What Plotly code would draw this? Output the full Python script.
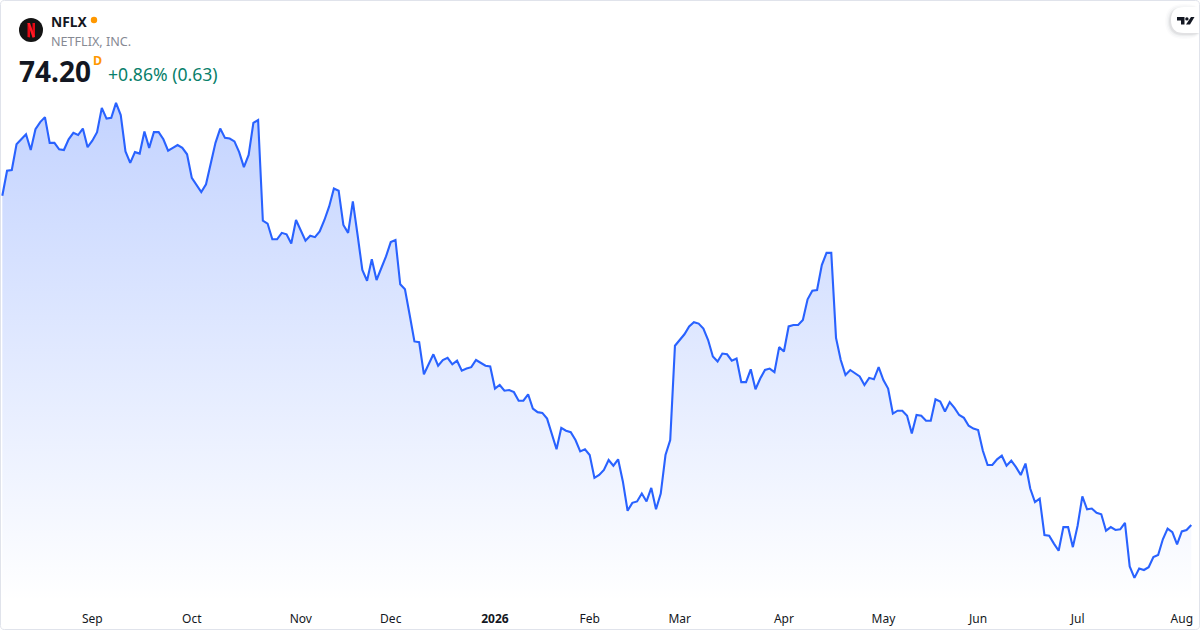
import plotly.graph_objects as go

# 1. Data (daily close, one value per trading day)
prices_aug_oct = [
    120.3, 123.8, 123.9, 127.5, 128.2, 128.9, 126.7, 129.6, 130.6, 131.3, 127.7, 127.7, 126.8, 126.7, 128.2, 129.1,
    128.8, 129.7, 127.1, 128.0, 129.2, 132.6, 131.1, 131.2, 133.3, 131.6, 126.5, 124.9, 126.4, 126.2, 129.3, 127.0,
    129.2, 129.2, 128.2, 126.6, 127.0, 127.4, 127.0, 126.1, 122.8, 121.8, 120.8, 121.9, 124.8, 127.7, 129.7, 128.4,
    128.3, 127.9, 126.4, 124.3, 126.0, 130.5, 130.9, 116.8, 116.4, 114.2, 114.2, 115.1, 114.9, 113.6, 116.9,
]
prices_nov_jan = [
    115.4, 114.0, 114.7, 114.5, 115.3, 116.9, 118.8, 121.3, 121.0, 116.2, 115.1, 119.5, 114.8, 109.9, 108.4, 111.4,
    108.5, 110.1, 111.8, 113.8, 114.1, 107.9, 107.2, 103.6, 99.9, 99.8, 95.3, 96.7, 98.1, 96.5, 97.3, 97.6,
    96.7, 97.2, 95.8, 96.1, 96.3, 97.3, 96.9, 96.5, 96.4, 93.3, 93.8, 93.0, 93.1, 92.8, 91.6, 91.6,
    92.5, 90.5, 90.0, 89.9, 89.1, 86.9, 84.8, 87.8, 87.4, 87.2, 86.1, 84.5, 84.8, 84.0,
]
prices_feb_may = [
    80.8, 81.2, 81.9, 83.3, 82.5, 83.4, 80.3, 76.2, 77.3, 77.5, 78.6, 77.5, 79.4, 76.4, 78.6, 84.0,
    86.1, 99.3, 100.1, 100.9, 102.0, 102.6, 102.4, 101.7, 100.1, 97.8, 97.1, 98.2, 98.1, 97.2, 97.5, 94.2,
    94.2, 96.0, 93.2, 94.7, 95.9, 96.1, 95.6, 99.1, 98.5, 102.0, 102.2, 102.2, 102.9, 105.8, 107.0, 107.1,
    110.6, 112.3, 112.3, 100.4, 97.3, 95.2, 95.9, 95.4, 95.0, 93.8, 94.8, 94.6, 96.3, 94.5, 93.3, 89.8, 90.2,
]
prices_may_aug = [
    90.2, 89.5, 87.0, 89.6, 89.5, 88.8, 88.8, 91.8, 91.5, 90.1, 91.4, 90.6, 89.6, 89.2, 88.1, 87.7,
    87.5, 84.6, 82.6, 82.6, 83.4, 83.9, 82.5, 83.2, 82.3, 81.2, 82.8, 79.3, 77.4, 77.9, 72.8, 72.7,
    71.6, 70.6, 73.9, 73.9, 71.1, 74.1, 78.2, 76.4, 76.5, 75.9, 75.7, 73.4, 73.9, 73.5, 73.6, 74.5,
    68.4, 66.8, 68.1, 67.9, 68.3, 69.7, 70.0, 72.2, 73.7, 73.2, 71.5, 73.3, 73.5, 74.2,
]
prices = prices_aug_oct + prices_nov_jan + prices_feb_may + prices_may_aug
days = list(range(len(prices)))

tick_days = [19, 40, 63, 82, 104, 124, 143, 165, 186, 206, 227, 249]
tick_labels = ['Sep', 'Oct', 'Nov', 'Dec', '<b>2026</b>', 'Feb', 'Mar', 'Apr', 'May', 'Jun', 'Jul', 'Aug']

symbol = 'NFLX'
company = 'NETFLIX, INC.'
last_price = '74.20'
interval = 'D'
change = '+0.86% (0.63)'

# 2. Page size and helpers to place the header in pixels
width = 1200
height = 630
bottom = 20
plot_h = height - bottom


def px(x):
    return x / width


def py(y):
    return 1 - y / plot_h


def path(points):
    return 'M ' + ' L '.join(f'{px(x):.5f},{py(y):.5f}' for x, y in points) + ' Z'


def text(x, y, label, size, color, anchor='left', bold=False):
    fig.add_annotation(
        x=px(x), y=py(y), xref='paper', yref='paper', text=f'<b>{label}</b>' if bold else label,
        showarrow=False, xanchor=anchor, yanchor='middle', borderpad=0,
        font=dict(family='Noto Sans', size=size, color=color),
    )


def shape(d, fill, line='rgba(0,0,0,0)', line_width=0):
    fig.add_shape(type='path', path=d, xref='paper', yref='paper', fillcolor=fill,
                  line=dict(color=line, width=line_width), layer='above')


def rounded(x0, y0, x1, y1, r):
    return (f'M {px(x0 + r):.5f},{py(y0):.5f} L {px(x1 - r):.5f},{py(y0):.5f} '
            f'Q {px(x1):.5f},{py(y0):.5f} {px(x1):.5f},{py(y0 + r):.5f} L {px(x1):.5f},{py(y1 - r):.5f} '
            f'Q {px(x1):.5f},{py(y1):.5f} {px(x1 - r):.5f},{py(y1):.5f} L {px(x0 + r):.5f},{py(y1):.5f} '
            f'Q {px(x0):.5f},{py(y1):.5f} {px(x0):.5f},{py(y1 - r):.5f} L {px(x0):.5f},{py(y0 + r):.5f} '
            f'Q {px(x0):.5f},{py(y0):.5f} {px(x0 + r):.5f},{py(y0):.5f} Z')


# 3. Area chart
fig = go.Figure()
fig.add_trace(go.Scatter(
    x=days, y=prices, mode='lines', fill='tozeroy',
    line=dict(color='#2962ff', width=2.1),
    fillgradient=dict(
        type='vertical', start=63.5, stop=133.5,
        colorscale=[[0, 'rgba(41,98,255,0)'], [1, 'rgba(41,98,255,0.28)']],
    ),
    showlegend=False,
    hovertemplate='%{y:.2f}<extra></extra>',
))

fig.update_layout(
    width=width, height=height,
    margin=dict(l=0, r=0, t=0, b=bottom),
    paper_bgcolor='white', plot_bgcolor='white',
    font=dict(family='Noto Sans', size=12, color='#131722'),
    xaxis=dict(range=[-0.49, 252.84], tickmode='array', tickvals=tick_days, ticktext=tick_labels,
               showgrid=False, zeroline=False, showline=False, ticks='', tickfont=dict(size=12, color='#131722')),
    yaxis=dict(range=[147.7 - 0.14 * plot_h, 147.7], visible=False, showgrid=False, zeroline=False),
)

# 4. Header
text(50, 21, symbol, 13.8, '#131722', bold=True)
text(50, 41, company, 12.6, '#868993')
text(18, 71, last_price, 28, '#131722', bold=True)
text(92, 61, interval, 12.5, '#ff9800', bold=True)
text(107, 74, change, 17.6, '#08806b')

fig.add_shape(type='circle', xref='paper', yref='paper', x0=px(90.8), x1=px(97.2), y0=py(23.2), y1=py(16.8),
              fillcolor='#ff9800', line=dict(width=0), layer='above')

# Netflix logo
fig.add_shape(type='circle', xref='paper', yref='paper', x0=px(19), x1=px(43), y0=py(42), y1=py(18),
              fillcolor='#131313', line=dict(width=0), layer='above')
shape(path([(27.5, 23), (30, 23), (30, 37.5), (27.5, 37)]), '#e50914')
shape(path([(32.5, 23), (35, 23), (35, 37), (32.5, 37.5)]), '#e50914')
shape(path([(27.5, 23), (30, 23), (35, 37), (32.5, 37.5)]), '#ff1a25')

# TradingView badge in the corner, with a soft shadow
for grow, alpha in [(5, 0.015), (3.5, 0.025), (2, 0.04), (1, 0.05)]:
    shape(rounded(1170 - grow, 7 - grow + 2, 1204, 33 + grow + 1, 13 + grow), f'rgba(19,23,34,{alpha})')
shape(rounded(1171, 7, 1210, 33, 13), '#ffffff')
shape(path([(1177, 17), (1184.5, 17), (1184.5, 24.5), (1181, 24.5), (1181, 20.5), (1177, 20.5)]), '#131722')
shape(path([(1191, 17), (1194.5, 17), (1190, 24.5), (1186, 24.5)]), '#131722')
fig.add_shape(type='circle', xref='paper', yref='paper', x0=px(1185.2), x1=px(1188.6), y0=py(20.6), y1=py(17.2),
              fillcolor='#131722', line=dict(width=0), layer='above')

# Outer card border
shape(rounded(0.5, 0.5, 1199.5, 629.5, 4), 'rgba(0,0,0,0)', '#e0e3eb', 1)

print(len(prices))
# body margin off, otherwise the browser pushes the chart 8px down and right
fig.write_html("out.html", config=dict(displayModeBar=False),
               post_script="document.body.style.margin='0';document.body.style.overflow='hidden';")
